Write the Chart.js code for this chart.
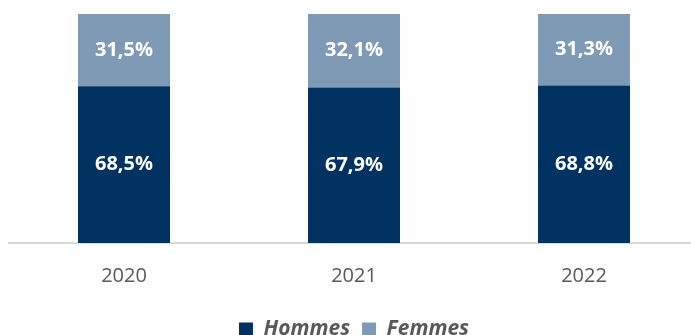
<!DOCTYPE html>
<html>
<head>
<meta charset="utf-8">
<script src="https://cdn.jsdelivr.net/npm/chart.js@4"></script>
<style>
  html, body { margin: 0; padding: 0; background: #fff; overflow: hidden; }
  #wrap { width: 700px; height: 350px; }
</style>
</head>
<body>
<div id="wrap"><canvas id="chart"></canvas></div>
<script>
// -- Répartition Hommes / Femmes --
const annees = ['2020', '2021', '2022'];
const hommes = [68.5, 67.9, 68.8];
const femmes = [31.5, 32.1, 31.3];

const couleurHommes = '#003262';
const couleurFemmes = '#7f9ab5';

// étiquettes blanches au centre de chaque segment
const etiquettes = {
  id: 'etiquettes',
  afterDatasetsDraw(chart) {
    const ctx = chart.ctx;
    ctx.save();
    ctx.fillStyle = '#ffffff';
    ctx.font = 'bold 20px "Open Sans", sans-serif';
    ctx.textAlign = 'center';
    ctx.textBaseline = 'middle';
    chart.data.datasets.forEach((ds, i) => {
      chart.getDatasetMeta(i).data.forEach((bar, j) => {
        const milieu = (bar.y + bar.base) / 2;
        ctx.fillText(ds.data[j].toFixed(1).replace('.', ',') + '%', bar.x, milieu);
      });
    });
    ctx.restore();
  }
};

new Chart(document.getElementById('chart'), {
  type: 'bar',
  data: {
    labels: annees,
    datasets: [
      { label: 'Hommes', data: hommes, backgroundColor: couleurHommes },
      { label: 'Femmes', data: femmes, backgroundColor: couleurFemmes }
    ]
  },
  options: {
    responsive: true,
    maintainAspectRatio: false,
    animation: false,
    categoryPercentage: 0.4,
    barPercentage: 1,
    layout: { padding: { left: 9, right: 1, top: 14, bottom: 0 } },
    scales: {
      x: {
        stacked: true,
        grid: { display: false },
        border: { color: '#d9d9d9', width: 2 },
        ticks: { color: '#595959', font: { size: 20, family: '"Open Sans", sans-serif' }, padding: 13 },
        afterFit(scale) { scale.height = 64; }
      },
      y: { stacked: true, display: false, min: 0, max: 100 }
    },
    plugins: {
      legend: {
        position: 'bottom',
        labels: {
          color: '#595959',
          boxWidth: 14,
          boxHeight: 14,
          padding: 12,
          font: { size: 21, weight: 'bold', style: 'italic', family: '"Open Sans", sans-serif' }
        }
      },
      tooltip: { enabled: false }
    }
  },
  plugins: [etiquettes]
});
</script>
</body>
</html>
